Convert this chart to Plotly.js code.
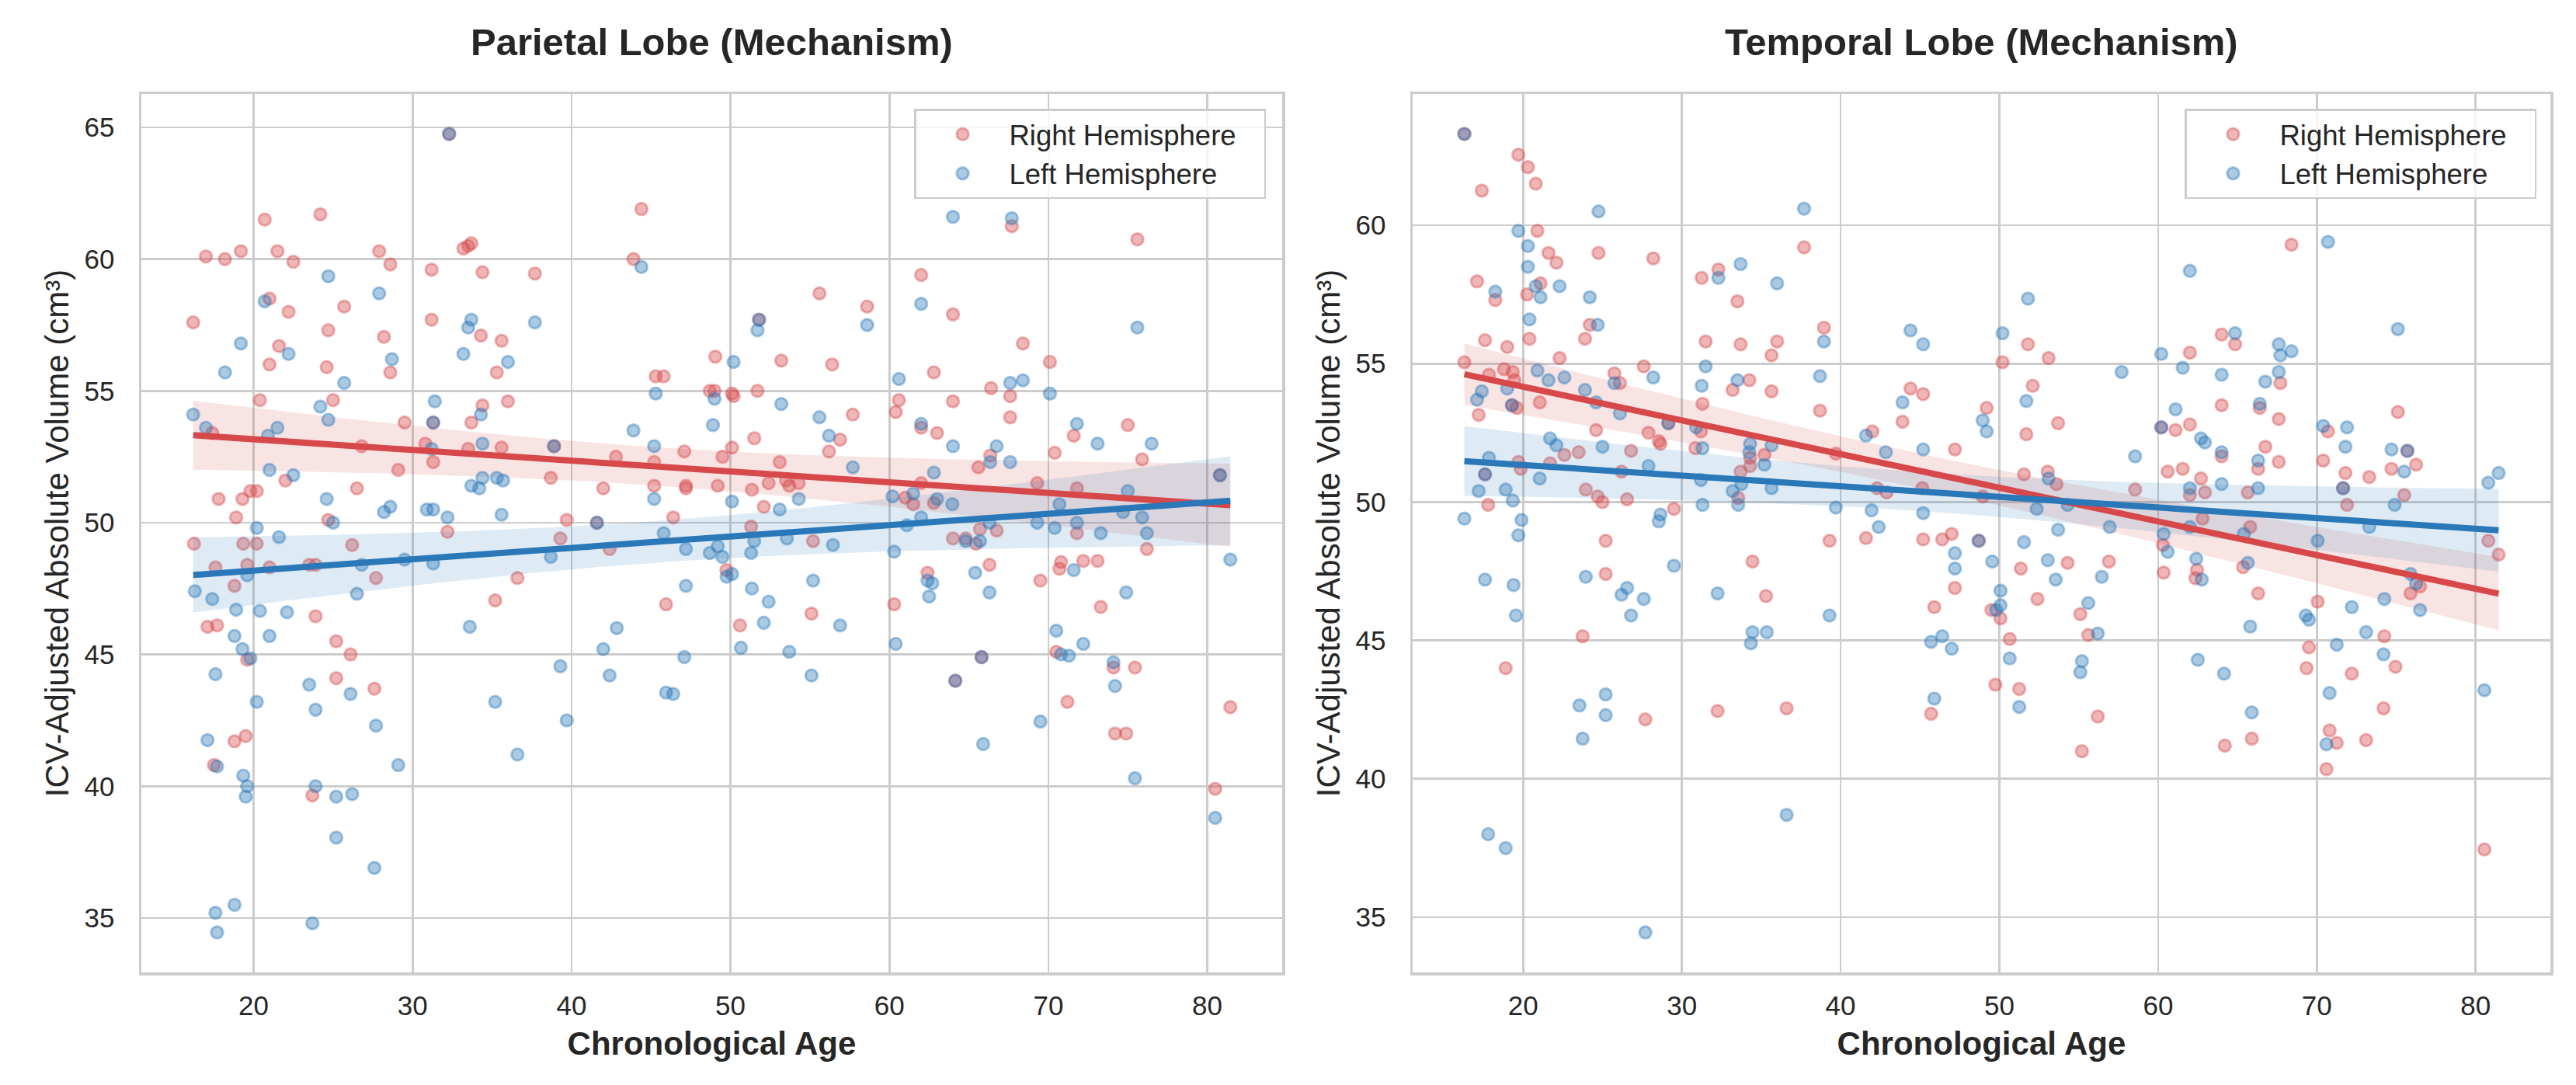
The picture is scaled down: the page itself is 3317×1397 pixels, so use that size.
<!DOCTYPE html>
<html>
<head>
<meta charset="utf-8">
<script src="https://cdn.plot.ly/plotly-3.0.1.min.js"></script>
<style>html,body{margin:0;padding:0;background:#fff;}#chart{width:3317px;height:1397px;}</style>
</head>
<body>
<div id="chart"></div>
<script>
// ---------------- DATA ----------------
const panelTitles = ['Parietal Lobe (Mechanism)', 'Temporal Lobe (Mechanism)'];
const seriesNames = ['Right Hemisphere', 'Left Hemisphere'];
const xTickVals = [20, 30, 40, 50, 60, 70, 80];
const yTickValsParietal = [35, 40, 45, 50, 55, 60, 65];
const yTickValsTemporal = [35, 40, 45, 50, 55, 60];
const xAxisLabel = 'Chronological Age';
const yAxisLabel = 'ICV-Adjusted Absolute Volume (cm³)';

// Parietal lobe - right hemisphere
const parietalRightAge = [32.3,44.4,20.7,24.2,17.0,18.2,19.2,21.5,22.5,27.9,28.6,31.2,33.7,33.5,33.2,34.4,37.7,43.9,21.0,22.2,25.7,16.2,31.2,24.7,28.2,34.3,35.6,21.6,21.0,24.6,28.6,35.3,45.3,45.8,20.4,25.0,36.0,34.4,29.5,31.3,33.7,17.4,26.8,30.8,33.5,35.6,38.9,47.1,42.8,45.2,31.3,22.0,29.1,38.7,42.0,45.2,47.2,47.2,19.8,20.2,26.5,17.8,19.3,18.9,24.7,39.7,41.6,46.4,
  32.2,39.3,42.4,16.25,19.35,20.2,26.2,17.6,19.6,21.0,23.5,23.9,27.7,36.6,18.8,23.9,35.2,17.1,17.7,25.2,19.6,26.1,25.2,27.6,18.8,19.5,17.5,23.7,45.95,
  67.7,75.6,62.0,55.6,58.6,64.0,51.8,68.4,49.05,53.2,56.4,70.1,62.8,48.7,49.0,50.1,50.2,51.7,66.4,67.6,60.6,64.0,57.7,60.4,67.6,62.0,63.0,75.0,51.5,56.9,71.6,50.1,56.2,70.4,49.5,66.35,53.1,75.9,65.6,80.8,49.2,51.35,52.4,53.5,53.7,54.3,62.0,69.3,71.8,52.1,61.0,61.5,62.8,51.3,
  71.8,64.0,64.8,65.7,66.75,65.45,76.2,55.2,49.75,55.1,50.6,60.3,62.4,66.3,65.8,64.15,69.5,70.8,70.7,72.2,73.1,73.3,70.5,74.1,75.45,71.2,74.2,74.9,81.45,80.5];
const parietalRightVol = [64.75,61.9,61.5,61.7,60.1,60.0,60.3,60.3,59.9,60.3,59.8,59.6,60.6,60.5,60.4,59.5,59.45,60.0,58.5,58.0,58.2,57.6,57.7,57.3,57.05,57.1,56.9,56.7,56.0,55.9,55.7,55.7,55.55,55.55,54.65,54.65,54.6,54.45,53.8,53.8,53.8,53.4,52.9,53.0,52.8,52.85,52.9,52.7,52.5,52.3,52.3,51.6,52.0,51.7,51.3,51.4,51.4,51.3,51.2,51.2,51.3,50.9,50.9,50.2,50.1,50.1,50.0,50.2,
  49.65,49.4,49.0,49.2,49.2,49.2,49.15,48.3,48.4,48.3,48.4,48.4,47.9,47.9,47.6,46.45,47.05,46.05,46.1,45.5,44.8,45.0,44.1,43.7,41.7,41.9,40.8,39.65,46.9,
  61.25,60.75,59.4,58.7,58.2,57.9,57.7,56.8,56.3,56.15,56.0,56.1,55.7,55.0,55.0,54.9,54.8,55.0,55.1,54.8,54.65,54.6,54.1,54.2,54.0,53.6,53.4,53.7,53.2,53.15,53.3,52.85,52.7,52.65,52.5,52.55,52.3,52.4,52.1,51.8,51.4,51.25,51.5,51.6,51.4,51.5,51.5,51.5,51.3,50.6,50.95,50.7,50.75,49.85,
  49.6,49.4,49.4,49.75,49.7,49.2,49.0,49.3,48.2,46.55,46.1,46.9,48.1,48.4,44.9,44.0,47.8,48.5,48.25,48.55,48.55,46.8,45.1,44.5,44.5,43.2,42.0,42.0,43.0,39.9];

// Parietal lobe - left hemisphere
const parietalLeftAge = [32.3,44.4,24.7,27.9,20.7,33.7,33.5,37.7,19.2,22.2,33.2,28.7,36.0,18.2,25.7,45.3,31.4,34.3,16.2,24.2,24.7,31.3,17.0,21.5,20.9,43.9,31.2,34.4,38.9,45.2,21.0,22.5,34.4,35.3,35.7,33.7,34.2,45.2,24.6,28.6,28.2,30.9,31.3,32.2,35.6,25.0,41.6,20.2,
  21.6,45.8,47.2,19.6,26.8,29.5,31.3,38.7,16.3,17.4,18.9,20.4,22.1,26.5,33.6,18.8,21.0,19.3,19.8,17.6,23.5,26.1,20.2,23.9,27.7,17.1,17.7,19.35,19.6,19.5,23.9,25.2,26.2,29.1,25.2,27.6,17.6,18.8,17.7,23.7,35.2,36.6,39.3,39.7,42.0,42.4,42.85,47.2,47.1,45.95,46.4,
  64.0,67.7,62.0,51.8,51.7,58.6,75.6,50.2,60.6,67.6,68.4,49.0,70.1,53.2,55.6,48.9,62.0,71.8,56.2,73.1,76.5,64.0,66.75,66.35,67.6,57.7,62.8,80.8,75.0,50.1,54.3,53.1,60.2,61.5,63.0,63.96,70.7,74.7,75.9,61.1,62.0,66.3,69.3,71.8,
  70.4,73.3,76.2,64.8,65.7,81.45,48.7,49.2,49.5,51.5,51.3,53.55,56.45,60.3,49.76,50.1,51.35,52.4,55.2,52.1,56.9,50.66,53.7,55.1,60.4,62.4,62.7,62.5,65.4,66.3,65.8,64.15,69.5,65.9,71.6,74.9,70.5,72.2,70.8,71.3,74.1,74.2,75.45,80.5];
const parietalLeftVol = [64.75,59.7,59.35,58.7,58.4,57.7,57.4,57.6,56.8,56.4,56.4,56.2,56.1,55.7,55.3,54.9,54.6,54.1,54.1,54.4,53.9,53.8,53.6,53.6,53.3,53.5,52.8,53.0,52.9,52.9,52.0,51.8,51.7,51.7,51.6,51.4,51.3,50.9,50.9,50.6,50.4,50.5,50.5,50.2,50.3,50.0,50.0,49.8,
  49.45,49.6,49.0,48.0,48.4,48.6,48.45,48.7,47.4,47.1,46.7,46.65,46.6,47.3,46.05,45.7,45.7,45.2,44.85,44.25,43.85,43.5,43.2,42.9,42.3,41.75,40.75,40.4,40.0,39.6,40.0,39.6,39.7,40.8,38.05,36.9,35.2,35.5,34.45,34.8,43.2,41.2,44.55,42.5,45.2,44.2,46.0,47.6,44.9,43.55,43.5,
  61.6,61.55,58.3,57.7,57.3,57.5,57.4,56.1,55.45,55.3,55.4,54.7,54.9,54.5,54.0,53.7,53.75,53.75,53.3,53.0,53.0,52.9,52.9,52.3,52.3,52.1,51.9,51.8,51.2,50.8,50.9,50.5,51.0,51.1,50.9,50.7,50.7,50.4,50.2,49.9,50.2,50.0,50.0,50.0,
  49.8,49.6,49.6,49.3,49.3,48.6,48.85,49.1,48.7,49.3,48.85,49.4,49.15,48.9,47.95,48.05,47.5,47.0,47.8,46.2,46.1,45.25,45.1,44.2,45.4,47.8,47.7,47.2,48.1,47.35,44.9,44.0,42.45,41.6,48.2,47.35,45.9,45.4,45.0,44.95,44.7,43.8,40.3,38.8];

// Temporal lobe - right hemisphere
const temporalRightAge = [16.3,19.7,20.3,20.8,17.4,20.9,21.6,22.1,24.75,28.2,37.7,31.25,32.3,17.1,18.25,21.1,20.25,33.5,24.2,38.95,17.6,19.0,20.4,23.9,31.5,33.7,36.0,35.65,22.3,16.3,27.6,18.8,19.35,17.85,19.45,25.75,26.1,34.25,33.2,35.65,19.3,19.6,21.05,17.2,31.3,38.7,44.4,45.2,43.9,29.15,31.2,24.6,27.9,28.55,28.65,42.0,22.6,23.5,26.8,30.85,39.7,47.2,19.7,19.85,21.7,34.3,35.2,34.3,33.7,26.2,17.6,42.3,42.9,45.15,23.95,24.7,25.0,26.55,33.55,17.8,29.5,
  25.2,39.3,41.6,45.2,46.4,47.0,48.7,47.2,45.9,34.45,25.2,35.3,23.75,18.9,27.7,32.25,36.6,45.7,
  68.4,51.8,50.2,53.1,64.0,64.85,62.0,67.7,52.1,49.2,53.7,51.7,64.0,66.4,67.6,75.1,60.2,61.1,62.0,70.7,66.75,64.0,75.7,66.3,67.6,70.4,71.8,73.3,74.7,76.25,51.55,53.05,53.6,60.6,61.55,62.7,62.0,62.95,58.55,65.65,71.65,71.9,75.5,48.95,62.8,65.8,
  60.3,51.35,54.3,56.9,60.35,62.45,62.35,65.35,80.8,81.45,49.5,50.07,52.4,55.1,55.6,66.3,70.05,75.9,76.5,74.25,50.65,69.5,69.35,72.2,74.95,49.75,51.25,56.2,55.2,64.2,65.9,74.2,70.8,71.25,73.1,70.6,80.55];
const temporalRightVol = [63.3,62.55,62.1,61.5,61.25,59.8,59.0,58.65,59.0,58.8,59.2,58.1,58.4,57.97,57.3,57.9,57.5,57.25,56.4,56.3,55.85,55.6,55.9,55.9,55.8,55.7,55.8,55.3,55.2,55.05,54.9,54.8,54.7,54.6,54.4,54.65,54.3,54.4,54.05,54.0,53.5,53.4,53.6,53.15,53.55,53.3,54.1,53.9,52.9,52.85,52.55,52.6,52.5,52.2,52.1,52.55,51.7,51.8,51.85,51.95,51.75,51.9,51.45,51.2,51.4,51.6,51.7,51.3,51.1,51.1,51.0,50.5,50.35,50.5,50.45,50.2,50.0,50.1,50.15,49.9,49.75,
  48.6,48.6,48.7,48.65,48.65,48.85,48.6,46.9,46.2,47.85,47.4,46.6,45.15,44.0,42.15,42.45,42.55,42.35,
  59.3,55.7,55.05,55.2,56.05,55.7,55.4,54.3,54.2,53.4,52.85,52.45,53.5,53.4,53.0,53.25,52.7,52.6,52.8,52.55,52.0,51.65,51.85,51.2,51.45,51.5,51.05,50.9,51.2,51.35,51.0,51.1,50.65,51.1,51.2,50.85,50.25,50.35,50.45,50.35,50.5,49.9,50.25,50.2,49.4,49.1,
  48.45,47.6,47.8,47.85,47.45,47.55,47.25,47.65,48.6,48.1,46.1,45.8,46.5,45.95,45.2,46.7,46.4,46.7,46.95,45.15,45.05,44.75,44.0,43.8,44.05,43.4,43.25,42.25,41.0,41.2,41.45,42.55,41.75,41.3,41.4,40.35,37.45];

// Temporal lobe - left hemisphere
const temporalLeftAge = [16.3,24.75,37.7,19.7,20.3,20.3,32.3,33.7,36.0,18.25,20.8,22.3,21.1,24.2,20.4,24.7,38.95,44.4,45.2,31.5,20.9,21.6,22.6,25.75,28.2,38.7,33.5,31.25,17.4,17.1,19.0,19.3,23.9,24.6,26.1,43.9,29.15,30.9,41.6,21.7,22.1,25.0,31.3,34.3,34.25,35.65,42.85,45.2,17.85,35.2,27.9,17.6,21.05,31.2,33.75,17.2,18.9,19.35,33.2,33.55,35.65,16.3,19.9,28.65,28.55,31.3,39.7,41.95,45.2,42.4,
  19.7,48.7,47.2,47.2,29.5,17.6,19.4,19.55,23.95,26.55,26.2,27.6,26.8,32.25,39.3,34.45,35.35,34.35,46.4,45.7,47.0,25.2,23.55,25.2,23.75,45.9,36.6,17.8,18.9,27.7,
  70.7,62.0,51.8,50.2,75.1,64.85,60.2,67.6,67.7,68.4,61.55,64.0,67.6,57.7,66.75,51.7,48.95,49.2,66.4,61.1,60.2,62.7,62.95,70.4,71.9,71.8,64.0,58.55,74.7,75.7,66.3,75.5,53.1,64.0,62.0,66.3,71.65,74.9,80.8,81.45,52.35,54.3,53.7,56.95,73.3,
  60.35,60.6,62.0,65.4,51.55,49.55,53.05,53.55,56.45,62.4,62.75,65.65,70.05,50.07,50.07,49.8,55.6,56.2,72.2,74.25,75.9,76.25,76.5,69.3,69.5,65.8,73.1,50.65,55.2,55.1,62.5,64.15,71.25,74.2,51.25,65.9,70.8,70.6,80.55];
const temporalLeftVol = [63.3,60.5,60.6,59.8,59.25,58.5,58.1,58.6,57.9,57.6,57.8,57.8,57.4,57.4,56.6,56.4,55.8,56.2,55.7,54.9,54.75,54.4,54.5,54.3,54.5,54.55,54.4,54.2,54.0,53.7,54.1,53.5,54.05,53.6,53.2,53.6,52.85,52.7,52.4,52.3,52.05,52.0,51.95,52.1,51.8,52.05,51.8,51.9,51.6,51.35,51.3,51.0,50.85,50.8,50.65,50.4,50.45,50.05,50.4,49.9,50.5,49.4,49.35,49.55,49.3,49.9,49.8,49.7,49.6,49.1,
  48.8,48.6,48.15,47.6,47.7,47.2,47.0,45.9,47.3,46.9,46.65,46.5,45.9,46.7,45.9,45.3,45.3,44.9,45.15,44.95,44.7,43.05,42.65,42.3,41.45,42.9,38.7,38.0,37.5,34.45,
  59.4,58.35,57.35,56.1,56.25,56.1,55.35,55.7,55.3,55.45,54.85,54.6,54.7,54.7,54.35,53.65,52.95,52.55,53.55,53.35,52.7,52.3,52.15,52.75,52.7,52.0,51.8,51.65,51.9,51.85,51.5,51.1,50.85,50.65,50.5,50.5,50.5,49.9,50.7,51.05,49.75,49.9,49.0,49.1,49.1,
  48.85,48.2,49.1,48.85,48.55,47.85,47.9,47.2,47.3,47.95,47.2,47.8,48.6,46.8,46.27,46.1,46.35,45.25,46.2,46.5,47.4,47.05,46.1,45.9,45.75,45.5,45.3,44.35,44.25,43.85,44.3,43.8,44.85,44.5,42.6,42.4,43.1,41.25,43.2];

// ---------------- STYLE ----------------
const W = 3317, H = 1397;
const FONT = '"Liberation Sans", Arial, Helvetica, sans-serif';
const TXT = '#262626';
const GRID = '#cccccc';
const RED = [214, 72, 74], BLUE = [42, 120, 184];
const rgba = (c, a) => `rgba(${c[0]},${c[1]},${c[2]},${a})`;
const LEGEND_PAD = '\u00a0\u00a0\u00a0';   // right padding inside the legend box

// OLS fit with 95% confidence band (as seaborn regplot draws)
function regression(xs, ys) {
  const n = xs.length;
  const mx = xs.reduce((a, b) => a + b, 0) / n;
  const my = ys.reduce((a, b) => a + b, 0) / n;
  let sxx = 0, sxy = 0;
  for (let i = 0; i < n; i++) { sxx += (xs[i] - mx) ** 2; sxy += (xs[i] - mx) * (ys[i] - my); }
  const b = sxy / sxx, a = my - b * mx;
  let sse = 0;
  for (let i = 0; i < n; i++) sse += (ys[i] - (a + b * xs[i])) ** 2;
  const s = Math.sqrt(sse / (n - 2));
  const lo = Math.min(...xs), hi = Math.max(...xs);
  const gx = [], gy = [], up = [], dn = [];
  for (let k = 0; k < 100; k++) {
    const x = lo + (hi - lo) * k / 99;
    const y = a + b * x;
    const se = 1.97 * s * Math.sqrt(1 / n + (x - mx) ** 2 / sxx);
    gx.push(x); gy.push(y); up.push(y + se); dn.push(y - se);
  }
  return { gx, gy, up, dn };
}

function paddedRange(arrs) {
  const all = [].concat(...arrs);
  const lo = Math.min(...all), hi = Math.max(...all);
  const m = (hi - lo) * 0.05;
  return [lo - m, hi + m];
}

const panels = [
  { r: [parietalRightAge, parietalRightVol], l: [parietalLeftAge, parietalLeftVol], xa: 'x', ya: 'y', leg: 'legend' },
  { r: [temporalRightAge, temporalRightVol], l: [temporalLeftAge, temporalLeftVol], xa: 'x2', ya: 'y2', leg: 'legend2' }
];

const traces = [];
panels.forEach(p => {
  const scatter = (d, c, name) => ({
    type: 'scatter', mode: 'markers', x: d[0], y: d[1], name: name + LEGEND_PAD, xaxis: p.xa, yaxis: p.ya, legend: p.leg,
    marker: { size: 15.5, color: rgba(c, 0.4), line: { color: rgba(c, 0.4), width: 3 } }, hoverinfo: 'skip'
  });
  const band = (fit, c) => ({
    type: 'scatter', mode: 'lines', x: fit.gx.concat(fit.gx.slice().reverse()), y: fit.up.concat(fit.dn.slice().reverse()),
    fill: 'toself', fillcolor: rgba(c, 0.15), line: { width: 0 }, showlegend: false, xaxis: p.xa, yaxis: p.ya, hoverinfo: 'skip'
  });
  const line = (fit, c) => ({
    type: 'scatter', mode: 'lines', x: fit.gx, y: fit.gy, line: { color: rgba(c, 1), width: 8 },
    showlegend: false, xaxis: p.xa, yaxis: p.ya, hoverinfo: 'skip'
  });
  const fr = regression(p.r[0], p.r[1]);
  const fl = regression(p.l[0], p.l[1]);
  traces.push(scatter(p.r, RED, seriesNames[0]), band(fr, RED), scatter(p.l, BLUE, seriesNames[1]), band(fl, BLUE), line(fr, RED), line(fl, BLUE));
});

function xAxis(domain, range, anchor) {
  return {
    domain, range, anchor, tickmode: 'array', tickvals: xTickVals, showgrid: true, gridcolor: GRID, gridwidth: 2.6,
    showline: true, linecolor: GRID, linewidth: 3.5, mirror: true, zeroline: false, ticks: '', ticklabelstandoff: 9,
    tickfont: { family: FONT, size: 35, color: TXT }, automargin: false,
    title: { text: '<b>' + xAxisLabel + '</b>', font: { family: FONT, size: 42, color: TXT }, standoff: 17 }
  };
}
function yAxis(domain, range, anchor, tv) {
  return {
    domain, range, anchor, tickmode: 'array', tickvals: tv, showgrid: true, gridcolor: GRID, gridwidth: 2.6,
    showline: true, linecolor: GRID, linewidth: 3.5, mirror: true, zeroline: false, ticks: '', ticklabelstandoff: 24,
    tickfont: { family: FONT, size: 35, color: TXT }, automargin: false,
    title: { text: yAxisLabel, font: { family: FONT, size: 42, color: TXT }, standoff: 8 }
  };
}

const yDom = [145 / H, 1276 / H];
const x1Dom = [182 / W, 1651 / W], x2Dom = [1819 / W, 3284 / W];

const legendBase = {
  yanchor: 'top', y: 1 - 140 / H, xanchor: 'right', bgcolor: 'rgba(255,255,255,0.8)', bordercolor: GRID, borderwidth: 2.5,
  font: { family: FONT, size: 36.5, color: TXT }, itemwidth: 110, tracegroupgap: 0
};

const layout = {
  width: W, height: H, margin: { l: 0, r: 0, t: 0, b: 0 }, paper_bgcolor: '#fff', plot_bgcolor: '#fff',
  font: { family: FONT, color: TXT },
  xaxis: xAxis(x1Dom, paddedRange([parietalRightAge, parietalLeftAge]), 'y'),
  yaxis: yAxis(yDom, paddedRange([parietalRightVol, parietalLeftVol]), 'x', yTickValsParietal),
  xaxis2: xAxis(x2Dom, paddedRange([temporalRightAge, temporalLeftAge]), 'y2'),
  yaxis2: yAxis(yDom, paddedRange([temporalRightVol, temporalLeftVol]), 'x2', yTickValsTemporal),
  legend: Object.assign({}, legendBase, { x: 1630 / W }),
  legend2: Object.assign({}, legendBase, { x: 3266 / W }),
  annotations: panelTitles.map((t, i) => ({
    text: '<b>' + t + '</b>', xref: 'paper', yref: 'paper', x: i === 0 ? (x1Dom[0] + x1Dom[1]) / 2 : (x2Dom[0] + x2Dom[1]) / 2,
    y: 1 - 54 / H, xanchor: 'center', yanchor: 'middle', showarrow: false, font: { family: FONT, size: 49, color: TXT }
  }))
};

Plotly.newPlot('chart', traces, layout, { displayModeBar: false, staticPlot: true });
</script>
</body>
</html>
